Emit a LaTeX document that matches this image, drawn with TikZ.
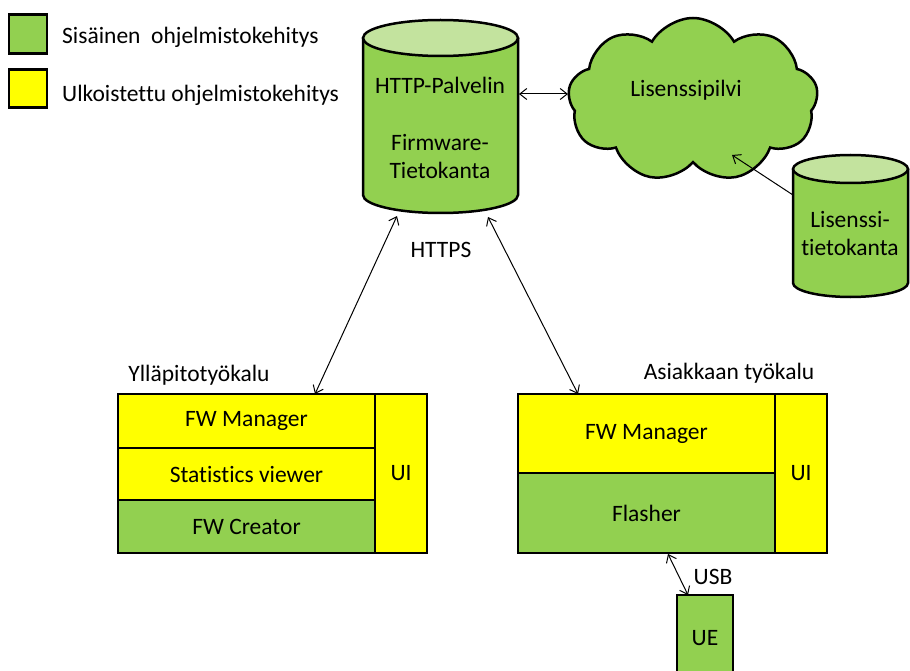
\documentclass[tikz,border=0pt]{standalone}
\usepackage{fontspec}
\setmainfont{Carlito}[Ligatures=NoCommon]
\usetikzlibrary{arrows.meta,shapes.symbols}
\definecolor{dev_green}{RGB}{146,208,80}
\definecolor{top_green}{RGB}{195,227,158}
\definecolor{dev_yell}{RGB}{255,255,0}

\begin{document}
\begin{tikzpicture}[x=1pt,y=-1pt,>={Straight Barb[length=7pt,width=11pt]},font=\fontsize{23.5}{28}\selectfont]
    \tikzstyle{box}=[draw=black, line width=2.5pt, rectangle, inner sep=0pt, text=black]
    \tikzstyle{inhouse}=[style=box, fill=dev_green]
    \tikzstyle{outsrc}=[style=box, fill=dev_yell]
    \tikzstyle{dbbody}=[draw=black, line width=2.5pt, fill=dev_green]
    \tikzstyle{dbtop}=[draw=black, line width=2.5pt, fill=top_green]
    \tikzstyle{lbl}=[align=center, inner sep=0pt, text=black]
    \tikzstyle{link}=[line width=1pt, draw=black]

    \useasboundingbox (0,0) rectangle (910,671);

    % legend
    \node[inhouse, minimum width=38, minimum height=39] (lgreen) at (28,34)   {};
    \node[outsrc,  minimum width=38, minimum height=38] (lyell)  at (28,88.5) {};
    \node[lbl, anchor=west] (lgreentxt) at (62,37) {Sisäinen\ \ ohjelmistokehitys};
    \node[lbl, anchor=west] (lyelltxt)  at (62,95) {Ulkoistettu ohjelmistokehitys};

    % server database
    \draw[dbbody] (363,38) -- (363,195) arc[start angle=180, end angle=360, x radius=77.5pt, y radius=18pt] -- (518,38);
    \draw[dbtop] (440.5,38) ellipse[x radius=77.5pt, y radius=18pt];
    \node[lbl] (srvtxt)  at (440,85)    {HTTP-Palvelin};
    \node[lbl] (fwdbtxt) at (440,156.5) {Firmware-\\Tietokanta};

    % license cloud and database
    \node[draw=black, line width=2.5pt, fill=dev_green, cloud, cloud puffs=9, cloud puff arc=120,
          cloud ignores aspect, minimum width=250, minimum height=164, inner sep=0pt] (cloud) at (693,100) {};
    \node[lbl] (cloudtxt) at (686,90) {Lisenssipilvi};
    \draw[dbbody] (793,169) -- (793,283) arc[start angle=180, end angle=360, x radius=57.5pt, y radius=14pt] -- (908,169);
    \draw[dbtop] (850.5,169) ellipse[x radius=57.5pt, y radius=14pt];
    \node[lbl] (lictxt) at (850,233.5) {Lisenssi-\\tietokanta};

    % maintenance tool
    \node[lbl] (tooltitle) at (199,375) {Ylläpitotyökalu};
    \node[outsrc,  minimum width=257, minimum height=54]  (mgrA)    at (246.5,421)   {FW Manager};
    \node[outsrc,  minimum width=257, minimum height=52]  (stat)    at (246.5,474)   {Statistics viewer};
    \node[inhouse, minimum width=257, minimum height=53]  (creator) at (246.5,526.5) {FW Creator};
    \node[outsrc,  minimum width=52,  minimum height=159] (uiA)     at (401,473.5)   {UI};

    % customer tool
    \node[lbl] (custtitle) at (729,373) {Asiakkaan työkalu};
    \node[outsrc,  minimum width=257, minimum height=79]  (mgrB)  at (646.5,433.5) {FW Manager};
    \node[inhouse, minimum width=257, minimum height=80]  (flash) at (646.5,513)   {Flasher};
    \node[outsrc,  minimum width=52,  minimum height=159] (uiB)   at (801,473.5)   {UI};
    \node[inhouse, minimum width=56,  minimum height=86]  (ue)    at (705,638)     {UE};

    \node[lbl] (https) at (441,250) {HTTPS};
    \node[lbl] (usb)   at (713,577) {USB};

    \coordinate (srvR)   at (519,94);
    \coordinate (srvBL)  at (397,216);
    \coordinate (srvBR)  at (488,217);
    \coordinate (licL)   at (793,195);
    \coordinate (cloudS) at (732,155);
    \coordinate (toolIn) at (315,394);
    \coordinate (custIn) at (578,394);
    \coordinate (usbTop) at (668,554);
    \coordinate (usbBot) at (688,595);

    \path[link]
     (srvR) edge[<->] (srvR -| cloud.west)
     (licL) edge[->] (cloudS)
     (srvBL) edge[<->] (toolIn)
     (srvBR) edge[<->] (custIn)
     (usbTop) edge[<->] (usbBot)
     ;
\end{tikzpicture}
\end{document}
